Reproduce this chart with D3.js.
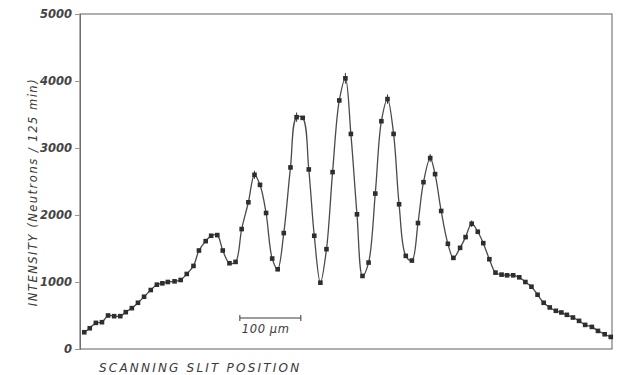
<!DOCTYPE html>
<html>
<head>
<meta charset="utf-8">
<script src="https://cdn.jsdelivr.net/npm/d3@7"></script>
<style>
  body { margin: 0; background: #ffffff; }
  svg { display: block; }
</style>
</head>
<body>
<div id="chart"></div>
<script>
const ink = '#3a3a3a'
const axis_color = '#6e6e6e'
const curve_color = '#4a4a4a'

// slit position (µm) and intensity (neutrons / 125 min)
const position = [7, 16, 26, 36, 46, 56, 66, 75, 85, 95, 105, 116, 126, 135, 144, 155, 165, 175, 186, 195,
  206, 215, 225, 234, 245, 255, 265, 276, 286, 295, 305, 315, 324, 334, 345, 355, 365, 375, 384, 394,
  404, 414, 425, 435, 444, 454, 463, 473, 484, 494, 504, 514, 523, 534, 544, 554, 563, 574, 582, 592,
  603, 612, 623, 632, 642, 652, 661, 671, 681, 691, 700, 710, 720, 730, 740, 750, 760, 770, 780, 789,
  798, 808, 818, 828, 839, 849, 860, 870];
const intensity = [250, 310, 390, 400, 500, 490, 490, 550, 610, 690, 780, 880, 960, 980, 1000, 1010, 1030, 1120, 1240, 1470,
  1610, 1690, 1700, 1470, 1280, 1300, 1790, 2190, 2600, 2450, 2030, 1350, 1190, 1730, 2710, 3460, 3450, 2680, 1690, 990,
  1490, 2640, 3710, 4040, 3210, 2010, 1090, 1290, 2320, 3400, 3730, 3210, 2160, 1390, 1320, 1880, 2490, 2850, 2610, 2060,
  1570, 1360, 1510, 1670, 1870, 1750, 1580, 1340, 1140, 1110, 1100, 1100, 1070, 1000, 930, 810, 690, 620, 570, 545,
  510, 470, 420, 360, 330, 270, 220, 180];
// error bars seen on the peak points
const err_position = [286, 355, 435, 504, 574, 642];
const err_size = [60, 70, 80, 70, 60, 50];

const y_ticks = [0, 1000, 2000, 3000, 4000, 5000];

const WIDTH = 618, HEIGHT = 375;
const margin = {left: 80, right: 6, top: 14, bottom: 26};

const svg = d3.select('#chart')
  .append('svg')
  .attr('width', WIDTH)
  .attr('height', HEIGHT);

const x = d3.scaleLinear()
  .domain([0, 872])
  .range([margin.left, WIDTH - margin.right]);
const y = d3.scaleLinear()
  .domain([0, 5000])
  .range([HEIGHT - margin.bottom, margin.top]);

const data = position.map((p, i) => ({x: p, y: intensity[i]}));

// frame
svg.append('rect')
  .attr('x', x(0))
  .attr('y', y(5000))
  .attr('width', x(872) - x(0))
  .attr('height', y(0) - y(5000))
  .attr('fill', 'none')
  .attr('stroke', axis_color)
  .attr('stroke-width', 1.1);

// y axis
const yAxis = svg.append('g')
  .attr('transform', `translate(${x(0)},0)`)
  .call(d3.axisLeft(y).tickValues(y_ticks).tickSize(5).tickPadding(3).tickFormat(d3.format('d')));
yAxis.select('.domain').attr('stroke', axis_color);
yAxis.selectAll('.tick line').attr('stroke', '#999');
yAxis.selectAll('.tick text')
  .attr('font-family', 'DejaVu Sans')
  .attr('font-style', 'italic')
  .attr('font-weight', 'bold')
  .attr('font-size', '11.5px')
  .attr('fill', '#444');

// fitted curve
svg.append('path')
  .datum(data)
  .attr('fill', 'none')
  .attr('stroke', curve_color)
  .attr('stroke-width', 1.3)
  .attr('d', d3.line().x(d => x(d.x)).y(d => y(d.y)).curve(d3.curveCatmullRom.alpha(0.5)));

// error bars
svg.selectAll('.err')
  .data(err_position)
  .join('line')
  .attr('class', 'err')
  .attr('x1', d => x(d))
  .attr('x2', d => x(d))
  .attr('y1', (d, i) => y(data.find(p => p.x === d).y + err_size[i]))
  .attr('y2', (d, i) => y(data.find(p => p.x === d).y - err_size[i]))
  .attr('stroke', ink)
  .attr('stroke-width', 1);

// measured points
const s = 4.6;
svg.selectAll('.pt')
  .data(data)
  .join('rect')
  .attr('class', 'pt')
  .attr('x', d => x(d.x) - s / 2)
  .attr('y', d => y(d.y) - s / 2)
  .attr('width', s)
  .attr('height', s)
  .attr('fill', '#2e2e2e');

// 100 µm scale bar
const bar_y = 318;
const bar = svg.append('g').attr('stroke', ink).attr('stroke-width', 1);
bar.append('line').attr('x1', x(262)).attr('x2', x(362)).attr('y1', bar_y).attr('y2', bar_y);
bar.append('line').attr('x1', x(262)).attr('x2', x(262)).attr('y1', bar_y - 3).attr('y2', bar_y + 3);
bar.append('line').attr('x1', x(362)).attr('x2', x(362)).attr('y1', bar_y - 3).attr('y2', bar_y + 3);
svg.append('text')
  .text('100 μm')
  .attr('x', x(262) + 2)
  .attr('y', 333)
  .attr('font-family', 'DejaVu Sans')
  .attr('font-style', 'italic')
  .attr('font-size', '11.5px')
  .attr('letter-spacing', '0.6px')
  .attr('fill', ink);

// axis titles
svg.append('text')
  .text('SCANNING SLIT POSITION')
  .attr('x', 99)
  .attr('y', 372)
  .attr('font-family', 'DejaVu Sans')
  .attr('font-style', 'italic')
  .attr('font-size', '12px')
  .attr('letter-spacing', '2.2px')
  .attr('fill', ink);

svg.append('text')
  .text('INTENSITY  (Neutrons / 125 min)')
  .attr('transform', 'translate(37,192) rotate(-90)')
  .attr('text-anchor', 'middle')
  .attr('font-family', 'DejaVu Sans')
  .attr('font-style', 'italic')
  .attr('font-size', '11.5px')
  .attr('letter-spacing', '1.5px')
  .attr('fill', ink);
</script>
</body>
</html>
